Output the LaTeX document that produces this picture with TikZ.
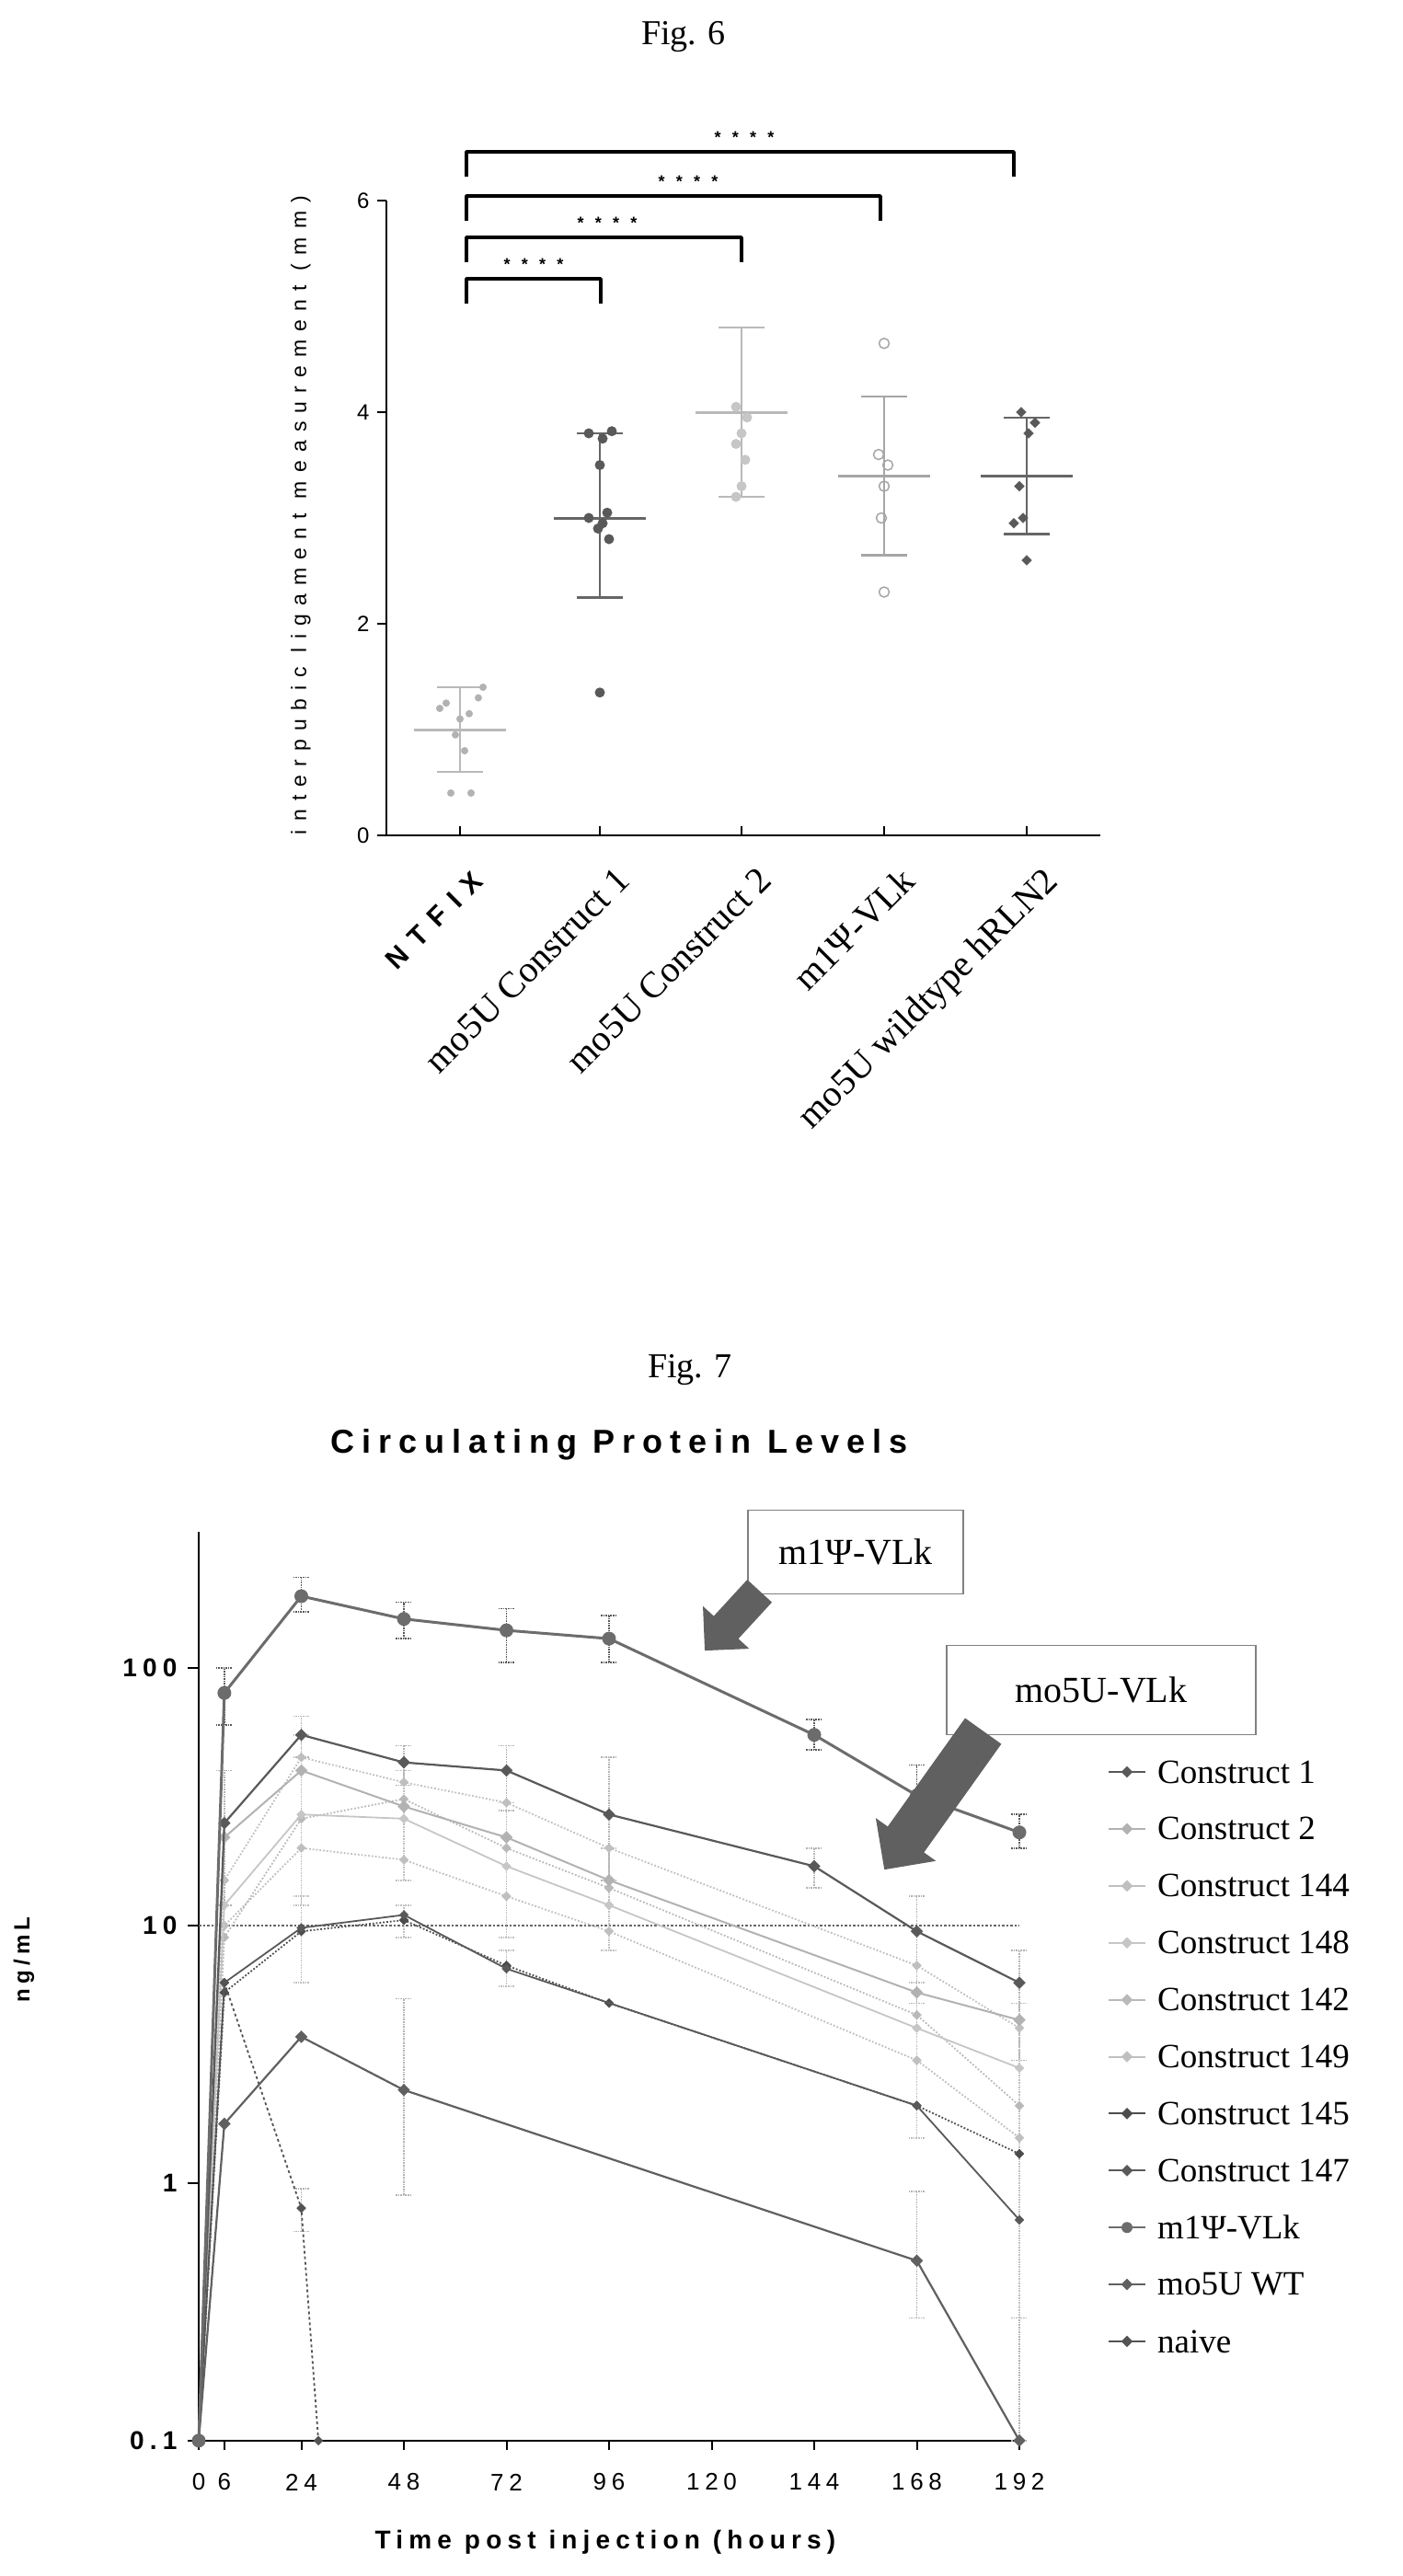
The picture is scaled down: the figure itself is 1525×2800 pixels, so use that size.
\documentclass[tikz,border=0pt]{standalone}
\usepackage{fontspec}
\setmainfont{Liberation Serif}
\newfontfamily\sps[LetterSpace=40]{Liberation Sans}
\newfontfamily\spb[LetterSpace=22]{Liberation Sans}
\usetikzlibrary{shapes.geometric,shapes.arrows,calc}
\tikzset{
 dia/.style={diamond,fill=#1,draw=#1,inner sep=0pt,minimum size=13pt},
 dot6/.style={circle,fill=#1,inner sep=0pt,minimum size=11pt},
 bar6/.style={line width=2.5pt,draw=#1},
 brk/.style={line width=3.5pt,line join=round},
 stars/.style={font=\fontsize{18}{18}\sps\bfseries},
 tl6/.style={font=\fontsize{40}{40}\selectfont,anchor=north east,rotate=45,inner sep=0pt},
 leg/.style={font=\fontsize{37}{37}\selectfont,anchor=west,inner sep=0pt},
 ebar/.style={densely dotted,line width=1.6pt,draw=#1},
 callout/.style={draw=gray,line width=1.2pt,font=\fontsize{40}{40}\selectfont,inner sep=0pt},
 bigarrow/.style={single arrow,fill=gray!75!black,draw=none,single arrow head extend=16pt,inner xsep=0pt}
}
\newcommand\series[3]{%
 \foreach \h/\v [count=\i] in {#3} {\coordinate (s\i) at ({216+4.646*\h},{2653-280*(log10(\v)+1)}); \xdef\nmax{\i}}
 \draw[#1] (s1) \foreach \j in {2,...,\nmax} { -- (s\j) };
 \foreach \j in {1,...,\nmax} \node[#2] at (s\j) {};
}
\newcommand\eb[4]{% colour, h, lo, hi
 \coordinate (eb1) at ({216+4.646*#2},{2653-280*(log10(#3)+1)});
 \coordinate (eb2) at ({216+4.646*#2},{2653-280*(log10(#4)+1)});
 \draw[ebar=#1] (eb1) -- (eb2);
 \draw[ebar=#1] ([xshift=-9pt]eb1) -- ([xshift=9pt]eb1);
 \draw[ebar=#1] ([xshift=-9pt]eb2) -- ([xshift=9pt]eb2);
}
\begin{document}
\begin{tikzpicture}[x=1pt,y=-1pt]
\useasboundingbox (0,0) rectangle (1525,2800);
% ================= Fig 6 =================
\node[font=\fontsize{38}{38}\selectfont] (f6) at (743,40) {Fig. 6};
\coordinate (o6) at (420,908);
\coordinate (t6) at (420,218);
\coordinate (e6) at (1196,908);
\draw[line width=2.5pt] (t6) -- (o6) -- (e6);
\foreach \v in {0,2,4,6} {
 \draw[line width=2pt] (410,{908-115*\v}) -- (420,{908-115*\v});
 \node[font=\fontsize{24}{24}\sps,anchor=east] (yl\v) at (405,{908-115*\v}) {\v};
}
\node[font=\fontsize{23}{23}\sps,rotate=90] (yl6) at (327,560) {interpubic ligament measurement (mm)};
% groups
\foreach \gx/\m/\lo/\hi/\c [count=\g] in {500/1.0/0.6/1.4/gray!55,652/3.0/2.25/3.8/gray!80!black,806/4.0/3.2/4.8/gray!55,961/3.4/2.65/4.15/gray!70,1116/3.4/2.85/3.95/gray!80!black} {
 \draw[line width=2pt] (\gx,898) -- (\gx,908);
 \draw[bar6=\c] (\gx,{908-115*\lo}) -- (\gx,{908-115*\hi});
 \draw[bar6=\c] ({\gx-25},{908-115*\lo}) -- ({\gx+25},{908-115*\lo});
 \draw[bar6=\c] ({\gx-25},{908-115*\hi}) -- ({\gx+25},{908-115*\hi});
 \draw[bar6=\c,line width=3pt] ({\gx-50},{908-115*\m}) -- ({\gx+50},{908-115*\m});
}
% points
\foreach \px/\v in {485/1.25,520/1.3,510/1.15,500/1.1,495/0.95,505/0.8,490/0.4,512/0.4,525/1.4,478/1.2}
 \node[dot6=gray!60,minimum size=8pt] at (\px,{908-115*\v}) {};
\foreach \px/\v in {640/3.8,665/3.82,655/3.75,652/3.5,640/3.0,655/2.95,660/3.05,650/2.9,662/2.8,652/1.35}
 \node[dot6=gray!70!black] at (\px,{908-115*\v}) {};
\foreach \px/\v in {800/4.05,812/3.95,806/3.8,800/3.7,810/3.55,806/3.3,800/3.2}
 \node[dot6=gray!45] at (\px,{908-115*\v}) {};
\foreach \px/\v in {961/4.65,955/3.6,965/3.5,961/3.3,958/3.0,961/2.3}
 \node[circle,draw=gray!70,line width=1.5pt,inner sep=0pt,minimum size=11pt] at (\px,{908-115*\v}) {};
\foreach \px/\v in {1110/4.0,1125/3.9,1118/3.8,1108/3.3,1112/3.0,1102/2.95,1116/2.6}
 \node[dia=gray!70!black,minimum size=11pt] at (\px,{908-115*\v}) {};
% x labels
\node[tl6,font=\fontsize{30}{30}\sps\bfseries] (xa) at (512,945) {NTFIX};
\node[tl6] (xb) at (668,940) {mo5U Construct 1};
\node[tl6] (xc) at (822,940) {mo5U Construct 2};
\node[tl6] (xd) at (977,940) {m1Ψ-VLk};
\node[tl6] (xe) at (1132,940) {mo5U wildtype hRLN2};
% brackets
\foreach \ry/\rx/\sx in {165/1102/809,213/957/748,258/806/660,303/653/580} {
 \draw[brk] (507,{\ry+27}) -- (507,\ry) -- (\rx,\ry) -- (\rx,{\ry+27});
 \node[stars] at (\sx,{\ry-16}) {* * * *};
}
% ================= Fig 7 =================
\node[font=\fontsize{38}{38}\selectfont] (f7) at (750,1489) {Fig. 7};
\node[font=\fontsize{36}{36}\spb\bfseries] (t7) at (673,1570) {Circulating Protein Levels};
\coordinate (o7) at (216,2653);
\coordinate (top7) at (216,1665);
\coordinate (e7) at (1108,2653);
\draw[line width=2.5pt] (top7) -- (o7) -- (e7);
\foreach \v/\lab in {0.1/0.1,1/1,10/10,100/100} {
 \draw[line width=2pt] (204,{2653-280*(log10(\v)+1)}) -- (216,{2653-280*(log10(\v)+1)});
 \node[font=\fontsize{28}{28}\spb\bfseries,anchor=east] at (196,{2653-280*(log10(\v)+1)}) {\lab};
}
\foreach \h in {0,6,24,48,72,96,120,144,168,192} {
 \draw[line width=2pt] ({216+4.646*\h},2653) -- ({216+4.646*\h},2663);
 \node[font=\fontsize{26}{26}\spb] at ({216+4.646*\h},2698) {\h};
}
\node[font=\fontsize{28}{28}\spb\bfseries] (xl7) at (658,2763) {Time post injection (hours)};
\node[font=\fontsize{24}{24}\spb\bfseries,rotate=90] (yl7) at (26,2130) {ng/mL};
\coordinate (d1) at (216,2093); \coordinate (d2) at (1108,2093);
\draw[dotted,line width=2.5pt,gray!80!black] (d1) -- (d2);
% error bars
\foreach \h/\lo/\hi in {6/60/100,24/165/225,48/130/180,72/105/170,96/105/160,144/48/63,168/25/42,192/20/27} {\eb{gray!70!black}{\h}{\lo}{\hi}}
\foreach \h/\lo/\hi in {24/45/65,48/35/50,72/28/50,96/15/45,144/14/20,168/5/13,192/3/8,6/12/40} {\eb{gray!60}{\h}{\lo}{\hi}}
\foreach \h/\lo/\hi in {24/12/55,48/15/40,72/9/30,96/8/20,168/1.5/6,192/0.3/5,24/6/13,48/9/12,72/5.8/8} {\eb{gray!50}{\h}{\lo}{\hi}}
\foreach \h/\lo/\hi in {48/0.9/5.2,168/0.3/0.93,192/0.1/0.3,24/0.65/0.95} {\eb{gray!60}{\h}{\lo}{\hi}}
% series
\series{gray!50,dotted,line width=1.8pt}{dia=gray!50,minimum size=10pt}{0/0.1,6/10,24/20,48/18,72/13,96/9.5,168/3,192/1.5}
\series{gray!55,dotted,line width=1.8pt}{dia=gray!55,minimum size=10pt}{0/0.1,6/9,24/26,48/31,72/20,96/14,168/4.5,192/2}
\series{gray!45,line width=1.8pt}{dia=gray!45,minimum size=10pt}{0/0.1,6/12,24/27,48/26,72/17,96/12,168/4,192/2.8}
\series{gray!50,dotted,line width=1.8pt}{dia=gray!50,minimum size=10pt}{0/0.1,6/15,24/45,48/36,72/30,96/20,168/7,192/4}
\series{gray!60,line width=2pt}{dia=gray!60,minimum size=13pt}{0/0.1,6/22,24/40,48/29,72/22,96/15,168/5.5,192/4.3}
\series{gray!60!black,dotted,line width=1.8pt}{dia=gray!60!black,minimum size=10pt}{0/0.1,6/5.5,24/9.5,48/10.5,72/7,96/5,168/2,192/1.3}
\series{gray!70!black,line width=1.8pt}{dia=gray!70!black,minimum size=10pt}{0/0.1,6/6,24/9.8,48/11,72/6.8,168/2,192/0.72}
\series{gray!65!black,dashed,line width=1.8pt}{dia=gray!65!black,minimum size=10pt}{0/0.1,6/6,24/0.8,28/0.1}
\series{gray!75!black,line width=2.2pt}{dia=gray!75!black,minimum size=13pt}{0/0.1,6/1.7,24/3.7,48/2.3,168/0.5,192/0.1}
\series{gray!70!black,line width=2.2pt}{dia=gray!70!black}{0/0.1,6/25,24/55,48/43,72/40,96/27,144/17,168/9.5,192/6}
\series{gray!85!black,line width=3pt}{dot6=gray!85!black,minimum size=15pt}{0/0.1,6/80,24/190,48/155,72/140,96/130,144/55,168/32,192/23}
% callouts
\node[callout,minimum width=234pt,minimum height=91pt] (c1) at (930,1687) {m1Ψ-VLk};
\node[callout,minimum width=336pt,minimum height=97pt] (c2) at (1197,1837) {mo5U-VLk};
\node[bigarrow,inner ysep=18pt,minimum height=88pt,rotate=227.4] (a1) at (802,1755) {};
\node[bigarrow,inner ysep=24pt,minimum height=185pt,rotate=234.5] (a2) at (1022,1947) {};
% legend
\foreach \lab/\c/\mk [count=\k] in {Construct 1/gray!70!black/dia,Construct 2/gray!60/dia,Construct 144/gray!50/dia,Construct 148/gray!45/dia,Construct 142/gray!55/dia,Construct 149/gray!50/dia,Construct 145/gray!60!black/dia,Construct 147/gray!70!black/dia,m1Ψ-VLk/gray!85!black/dot6,mo5U WT/gray!75!black/dia,naive/gray!65!black/dia} {
 \coordinate (la\k) at (1205,{1926+61.9*(\k-1)});
 \coordinate (lb\k) at (1245,{1926+61.9*(\k-1)});
 \draw[\c,line width=2pt] (la\k) -- (lb\k);
 \node[\mk=\c,minimum size=12pt] at ($(la\k)!0.5!(lb\k)$) {};
 \node[leg] (lt\k) at (1258,{1926+61.9*(\k-1)}) {\lab};
}
\end{tikzpicture}
\end{document}
